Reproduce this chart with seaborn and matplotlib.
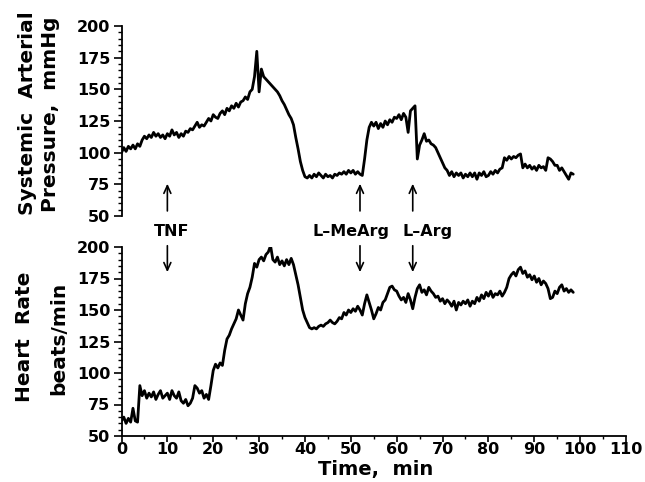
import numpy as np
import pandas as pd
import matplotlib
matplotlib.use("Agg")
import matplotlib.pyplot as plt
from matplotlib.ticker import MultipleLocator
import seaborn as sns

# sample interval of the traces (minutes)
dt_min = 0.5

# Systemic arterial pressure, mmHg (every 0.5 min from t = 0)
pressure = [
    100, 104, 101, 105, 103, 106, 103, 107, 105, 110,
    113, 111, 114, 112, 116, 113, 115, 112, 114, 111,
    115, 113, 118, 114, 116, 112, 115, 113, 117, 116,
    119, 118, 121, 124, 120, 122, 121, 124, 127, 125,
    130, 128, 127, 131, 133, 130, 135, 133, 137, 135,
    139, 136, 140, 141, 144, 142, 148, 150, 160, 180,
    148, 166, 160, 158, 156, 154, 152, 150, 148, 145,
    141, 138, 134, 130, 127, 122, 112, 103, 93, 86,
    81, 80, 82, 80, 83, 81, 84, 82, 80, 83,
    81, 82, 80, 83, 82, 84, 83, 85, 83, 86,
    84, 86, 83, 85, 83, 82, 95, 110, 120, 124,
    121, 124, 119, 123, 120, 125, 122, 126, 124, 128,
    127, 130, 126, 131, 128, 116, 133, 135, 137, 95,
    106, 110, 115, 109, 110, 107, 106, 104, 100, 96,
    92, 88, 86, 82, 85, 81, 84, 82, 84, 80,
    83, 81, 84, 81, 84, 79, 84, 82, 85, 81,
    82, 85, 83, 86, 84, 87, 88, 96, 94, 97,
    95, 97, 96, 98, 99, 88, 91, 88, 90, 87,
    89, 86, 90, 88, 89, 86, 96, 95, 93, 90,
    90, 86, 88, 85, 82, 79, 84, 83,
]

# Heart rate, beats/min (every 0.5 min from t = 0)
heart_rate = [
    62, 65, 60, 64, 61, 72, 62, 61, 90, 82,
    86, 80, 84, 81, 85, 79, 83, 86, 80, 82,
    84, 79, 86, 82, 80, 85, 78, 76, 79, 74,
    76, 80, 90, 88, 84, 86, 80, 83, 79, 90,
    102, 107, 104, 108, 106, 118, 127, 130, 135, 139,
    143, 150, 146, 142, 155, 163, 168, 176, 187, 184,
    190, 192, 189, 194, 196, 201, 190, 188, 192, 186,
    189, 185, 190, 186, 191, 186, 178, 170, 160, 150,
    144, 140, 136, 135, 136, 135, 137, 138, 137, 139,
    140, 142, 140, 139, 141, 144, 143, 148, 146, 150,
    148, 151, 149, 153, 150, 146, 155, 162, 156, 150,
    143, 147, 152, 150, 156, 158, 163, 168, 169, 166,
    165, 161, 158, 160, 156, 163, 158, 151, 160, 167,
    170, 164, 166, 162, 168, 165, 163, 160, 161, 157,
    159, 155, 158, 156, 153, 157, 150, 156, 154, 157,
    155, 158, 153, 157, 155, 160, 157, 162, 159, 164,
    161, 165, 160, 163, 162, 165, 161, 164, 168, 175,
    178, 180, 177, 182, 184, 179, 181, 176, 178, 174,
    177, 172, 175, 170, 173, 171, 167, 159, 160, 165,
    163, 168, 170, 165, 167, 164, 166, 164,
]

# drug injections: label, time (min)
events = ["TNF", "L\u2013MeArg", "L\u2013Arg"]
event_times = [10, 52, 63.5]

y_ticks = [50, 75, 100, 125, 150, 175, 200]
x_ticks = [0, 10, 20, 30, 40, 50, 60, 70, 80, 90, 100, 110]

time = np.arange(len(pressure)) * dt_min
df_p = pd.DataFrame({"time": time, "value": pressure})
df_h = pd.DataFrame({"time": np.arange(len(heart_rate)) * dt_min, "value": heart_rate})

sns.set_style("ticks")
plt.rcParams["font.family"] = ["DejaVu Sans"]
plt.rcParams["text.color"] = "black"
plt.rcParams["axes.labelcolor"] = "black"
plt.rcParams["xtick.color"] = "black"
plt.rcParams["ytick.color"] = "black"
plt.rcParams["axes.edgecolor"] = "black"

W, H = 645, 482
fig = plt.figure(figsize=(W / 100, H / 100), dpi=100)

def fx(px):
    return px / W

def fy(py):
    return 1 - py / H

left, right = 121.5, 626
ax_top = fig.add_axes([fx(left), fy(216), fx(right - left), fy(26) - fy(216)])
ax_bot = fig.add_axes([fx(left), fy(436), fx(right - left), fy(247) - fy(436)])

lw = 2.0
sns.lineplot(data=df_p, x="time", y="value", ax=ax_top, color="black", lw=lw)
sns.lineplot(data=df_h, x="time", y="value", ax=ax_bot, color="black", lw=lw)

tick_font = dict(fontsize=11.5, fontweight="bold", color="black")
for ax in (ax_top, ax_bot):
    ax.set_xlim(0, 110)
    ax.set_ylim(50, 200)
    ax.set_yticks(y_ticks)
    ax.set_yticklabels([str(v) for v in y_ticks], **tick_font)
    ax.yaxis.set_minor_locator(MultipleLocator(5))
    ax.set_xlabel("")
    ax.set_ylabel("")
    for s in ("top", "right"):
        ax.spines[s].set_visible(False)
    ax.spines["left"].set_linewidth(1.3)
    ax.spines["bottom"].set_linewidth(1.3)
    ax.tick_params(axis="y", which="major", direction="out", length=6, width=1.2, pad=2, colors="black")
    ax.tick_params(axis="y", which="minor", direction="out", length=3, width=1.0, colors="black")
    ax.patch.set_alpha(0)

ax_top.spines["bottom"].set_visible(False)
ax_top.set_xticks([])
ax_top.tick_params(axis="x", which="both", length=0, labelbottom=False)

ax_bot.set_xticks(x_ticks)
ax_bot.set_xticklabels([str(v) for v in x_ticks], **tick_font)
ax_bot.xaxis.set_minor_locator(MultipleLocator(5))
ax_bot.tick_params(axis="x", which="major", direction="out", length=4, width=1.2, pad=0.5, colors="black")
ax_bot.tick_params(axis="x", which="minor", direction="out", length=2.5, width=1.0, colors="black")

label_font = dict(fontsize=14.5, fontweight="bold", rotation=90, ha="center", va="center",
                  color="black")
fig.text(fx(28), fy(113), "Systemic  Arterial", **label_font)
fig.text(fx(51), fy(114), "Pressure,  mmHg", **label_font)
fig.text(fx(25), fy(337), "Heart  Rate", **label_font)
fig.text(fx(59), fy(338), "beats/min", **label_font)
fig.text(fx(376), fy(470), "Time,  min", fontsize=14, fontweight="bold", ha="center", va="center",
         color="black")

arrow = dict(arrowstyle="->,head_length=0.55,head_width=0.25", lw=1.2, color="black",
             shrinkA=0, shrinkB=0)
label_x = [172, 351, 428]
for name, t, lx in zip(events, event_times, label_x):
    ax_top.annotate("", xy=(t, 75.5), xytext=(t, 54), arrowprops=arrow, annotation_clip=False)
    ax_bot.annotate("", xy=(t, 180), xytext=(t, 201), arrowprops=arrow, annotation_clip=False)
    fig.text(fx(lx), fy(231), name, fontsize=11.5, fontweight="bold", ha="center", va="center",
             color="black")

fig.savefig("out.png", dpi=100)
